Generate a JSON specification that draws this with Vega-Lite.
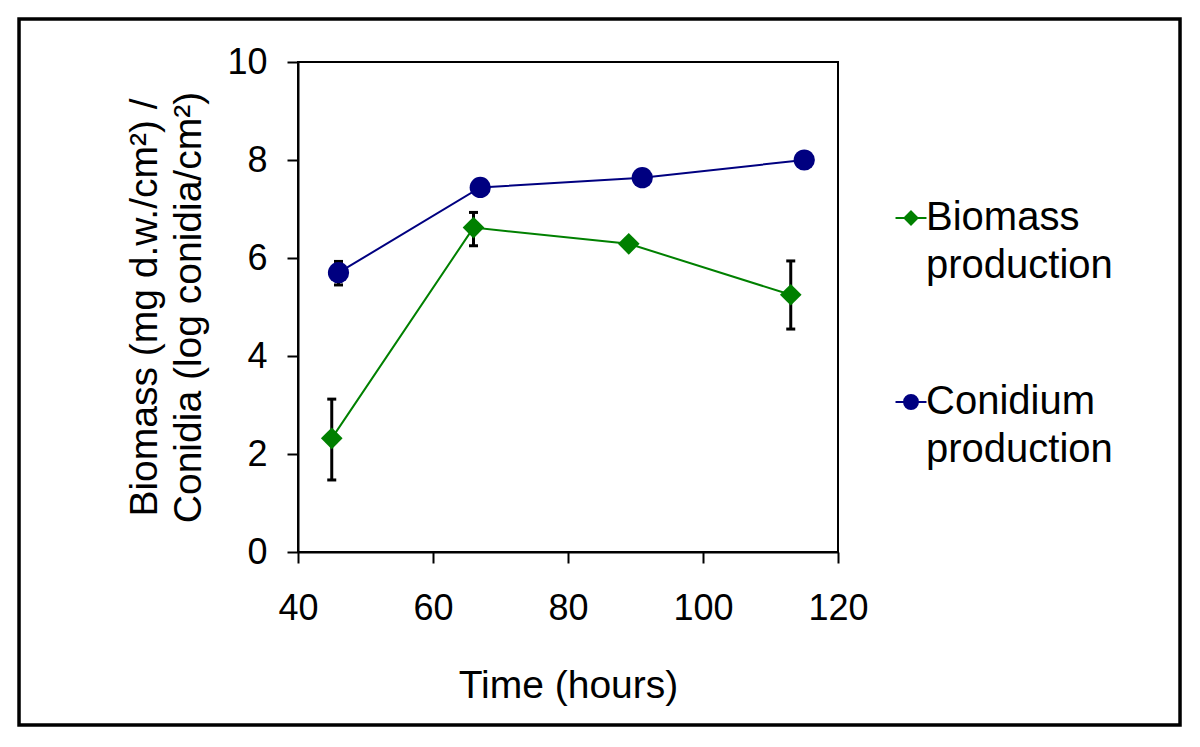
{
  "$schema": "https://vega.github.io/schema/vega-lite/v6.json",
  "autosize": {"type": "none"},
  "width": 540,
  "height": 490,
  "padding": {"left": 298, "top": 62, "right": 362, "bottom": 195},
  "background": "white",
  "config": {
    "font": "Liberation Sans",
    "view": {"stroke": "#000", "strokeWidth": 2},
    "axis": {
      "grid": false, "labelFlush": false,
      "domainColor": "#000", "domainWidth": 2,
      "tickColor": "#000", "tickWidth": 2, "tickSize": 11,
      "labelFont": "Liberation Sans", "labelFontSize": 36, "labelColor": "#000",
      "titleFont": "Liberation Sans", "titleFontSize": 39, "titleFontWeight": "normal", "titleColor": "#000"
    }
  },
  "data": {
    "values": [
      {"series": "Biomass production", "time": 45, "value": 2.32, "lo": 1.47, "hi": 3.12},
      {"series": "Biomass production", "time": 66, "value": 6.62, "lo": 6.25, "hi": 6.93},
      {"series": "Biomass production", "time": 89, "value": 6.29, "lo": null, "hi": null},
      {"series": "Biomass production", "time": 113, "value": 5.25, "lo": 4.55, "hi": 5.94},
      {"series": "Conidium production", "time": 46, "value": 5.70, "lo": 5.45, "hi": 5.93},
      {"series": "Conidium production", "time": 67, "value": 7.44, "lo": null, "hi": null},
      {"series": "Conidium production", "time": 91, "value": 7.64, "lo": null, "hi": null},
      {"series": "Conidium production", "time": 115, "value": 8.0, "lo": null, "hi": null}
    ]
  },
  "layer": [
    {
      "data": {"values": [{"frame": "border"}]},
      "mark": {"type": "rect", "filled": false, "stroke": "#000", "strokeWidth": 3.5, "clip": false},
      "encoding": {
        "x": {"datum": -1.33, "type": "quantitative"},
        "x2": {"datum": 170.67},
        "y": {"datum": 10.878, "type": "quantitative"},
        "y2": {"datum": -3.531}
      }
    },
    {
      "mark": {"type": "rule", "color": "#000", "strokeWidth": 3},
      "encoding": {
        "x": {"field": "time", "type": "quantitative"},
        "y": {"field": "lo", "type": "quantitative"},
        "y2": {"field": "hi"}
      }
    },
    {
      "mark": {"type": "tick", "orient": "horizontal", "color": "#000", "size": 9, "thickness": 3, "opacity": 1},
      "encoding": {
        "x": {"field": "time", "type": "quantitative"},
        "y": {"field": "lo", "type": "quantitative"}
      }
    },
    {
      "mark": {"type": "tick", "orient": "horizontal", "color": "#000", "size": 9, "thickness": 3, "opacity": 1},
      "encoding": {
        "x": {"field": "time", "type": "quantitative"},
        "y": {"field": "hi", "type": "quantitative"}
      }
    },
    {
      "mark": {"type": "line", "strokeWidth": 2},
      "encoding": {
        "x": {"field": "time", "type": "quantitative"},
        "y": {"field": "value", "type": "quantitative"},
        "stroke": {"field": "series", "type": "nominal",
          "scale": {"domain": ["Biomass production", "Conidium production"], "range": ["#008000", "#000080"]},
          "legend": {
            "orient": "none", "legendX": 593, "legendY": 136, "title": null, "padding": 0,
            "labelFont": "Liberation Sans", "labelFontSize": 40, "labelColor": "#000",
            "labelExpr": "split(datum.label, ' ')", "labelLimit": 600, "labelOffset": -5,
            "symbolSize": 960, "rowPadding": 96, "symbolStrokeWidth": 2,
            "encode": {
              "symbols": {"update": {
                "shape": {"signal": "datum.value === 'Biomass production' ? 'M-1,0H1M0,-0.42L0.42,0L0,0.42L-0.42,0Z' : 'M-1,0H1M0.45,0A0.45,0.45 0 1,1 -0.45,0A0.45,0.45 0 1,1 0.45,0Z'"},
                "fill": {"signal": "datum.value === 'Biomass production' ? '#008000' : '#000080'"},
                "stroke": {"signal": "datum.value === 'Biomass production' ? '#008000' : '#000080'"},
                "strokeWidth": {"value": 2},
                "opacity": {"value": 1}
              }},
              "labels": {"update": {"lineHeight": {"value": 48}}}
            }
          }
        }
      }
    },
    {
      "transform": [{"filter": "datum.series === 'Biomass production'"}],
      "mark": {"type": "point", "shape": "diamond", "filled": true, "opacity": 1, "size": 470, "color": "#008000"},
      "encoding": {
        "x": {"field": "time", "type": "quantitative"},
        "y": {"field": "value", "type": "quantitative"}
      }
    },
    {
      "transform": [{"filter": "datum.series === 'Conidium production'"}],
      "mark": {"type": "point", "shape": "circle", "filled": true, "opacity": 1, "size": 450, "color": "#000080"},
      "encoding": {
        "x": {
          "field": "time", "type": "quantitative",
          "scale": {"domain": [40, 120], "nice": false, "zero": false},
          "axis": {"values": [40, 60, 80, 100, 120], "labelPadding": 28, "title": "Time (hours)", "titlePadding": 40}
        },
        "y": {
          "field": "value", "type": "quantitative",
          "scale": {"domain": [0, 10], "nice": false, "zero": true},
          "axis": {"values": [0, 2, 4, 6, 8, 10], "labelPadding": 20,
            "title": ["Biomass (mg d.w./cm²) /", "Conidia (log conidia/cm²)"],
            "titleLineHeight": 44, "titlePadding": 18}
        }
      }
    }
  ]
}
